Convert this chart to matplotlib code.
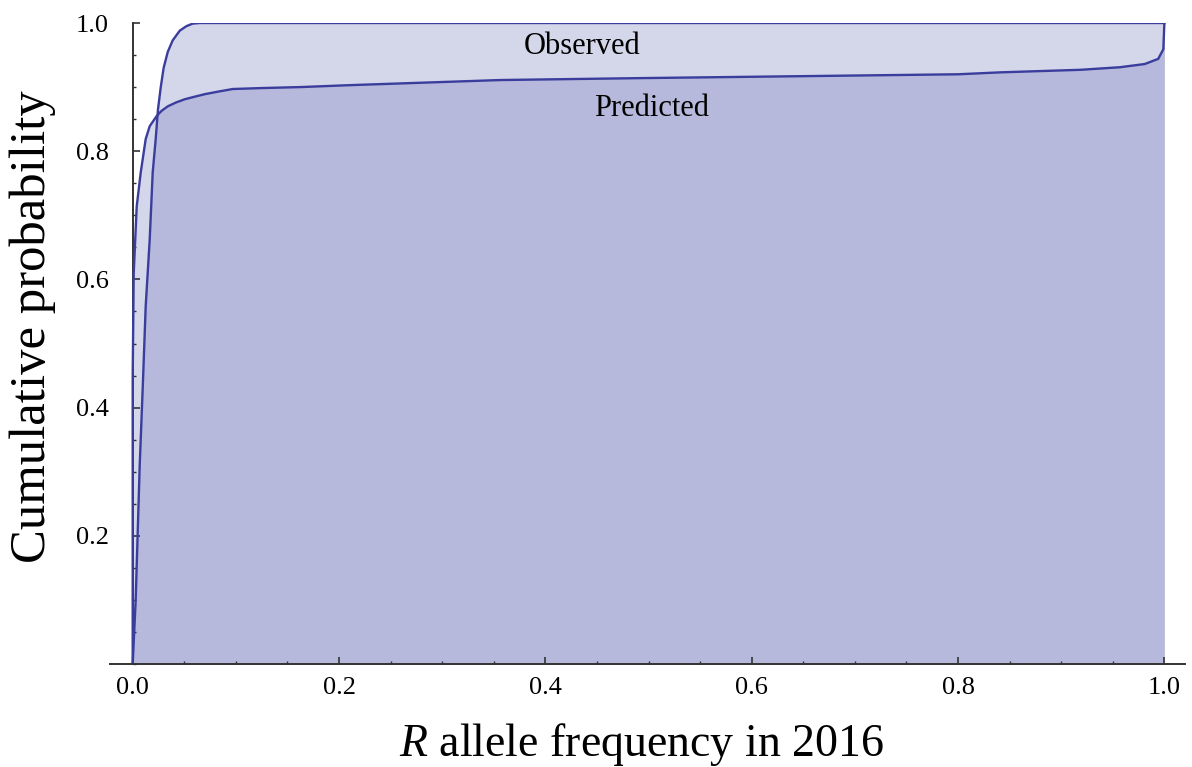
import matplotlib
matplotlib.use("Agg")
import matplotlib.pyplot as plt
import numpy as np
from matplotlib.ticker import MultipleLocator, FixedLocator

plt.rcParams['font.family'] = ['Liberation Serif', 'DejaVu Serif']
plt.rcParams['mathtext.fontset'] = 'custom'
plt.rcParams['mathtext.it'] = 'Liberation Serif:italic'
plt.rcParams['mathtext.rm'] = 'Liberation Serif'

# Observed cumulative distribution (R allele frequency, cumulative probability)
obs_x = [0.0, 0.0029, 0.0068, 0.0097, 0.0126, 0.0165, 0.0194, 0.0223, 0.0245,
         0.0272, 0.030, 0.034, 0.0388, 0.0456, 0.052, 0.058, 0.065, 1.0]
obs_y = [0.0, 0.10, 0.31, 0.43, 0.558, 0.6625, 0.767, 0.819, 0.865,
         0.90, 0.93, 0.955, 0.973, 0.988, 0.995, 0.999, 1.0, 1.0]

# Predicted cumulative distribution
pred_x = [0.0, 0.0, 0.001, 0.0039, 0.0078, 0.0126, 0.0165, 0.0233, 0.028, 0.034,
          0.042, 0.0504, 0.060, 0.070, 0.083, 0.097, 0.125, 0.162, 0.21, 0.356,
          0.492, 0.80, 0.841, 0.919, 0.957, 0.981, 0.994, 0.999, 1.0]
pred_y = [0.0, 0.45, 0.61, 0.714, 0.767, 0.819, 0.839, 0.855, 0.863, 0.870,
          0.876, 0.881, 0.885, 0.889, 0.893, 0.897, 0.8985, 0.900, 0.903, 0.911,
          0.914, 0.920, 0.923, 0.927, 0.931, 0.936, 0.944, 0.959, 1.0]

x_ticks = [0.0, 0.2, 0.4, 0.6, 0.8, 1.0]
x_ticklabels = ["0.0", "0.2", "0.4", "0.6", "0.8", "1.0"]
y_ticks = [0.2, 0.4, 0.6, 0.8, 1.0]
y_ticklabels = ["0.2", "0.4", "0.6", "0.8", "1.0"]

label_obs = "Observed"
label_pred = "Predicted"

fill_color = (108/255, 115/255, 182/255)
line_color = "#3a3d9c"

fig = plt.figure(figsize=(11.92, 7.67), dpi=100)
ax = fig.add_axes([110/1192, 1 - 664/767, (1185 - 110)/1192, (664 - 23)/767])

ax.fill_between(obs_x, 0, obs_y, color=fill_color, alpha=0.286, linewidth=0)
ax.fill_between(pred_x, 0, pred_y, color=fill_color, alpha=0.286, linewidth=0)
ax.plot(obs_x, obs_y, color=line_color, lw=1.7, solid_joinstyle='round')
ax.plot(pred_x, pred_y, color=line_color, lw=1.7, solid_joinstyle='round')

ax.set_xlim(-0.022, 1.02)
ax.set_ylim(0, 1.0)

for s in ['top', 'right']:
    ax.spines[s].set_visible(False)
ax.spines['left'].set_bounds(0, 1.0)
ax.spines['left'].set_position(('data', 0))
ax.spines['left'].set_color('#333333')
ax.spines['bottom'].set_color('#333333')
ax.spines['left'].set_linewidth(1.4)
ax.spines['bottom'].set_linewidth(1.4)
ax.spines['left'].set_zorder(1)

ax.xaxis.set_major_locator(FixedLocator(x_ticks))
ax.set_xticklabels(x_ticklabels)
ax.xaxis.set_minor_locator(MultipleLocator(0.05))
ax.yaxis.set_major_locator(FixedLocator(y_ticks))
ax.set_yticklabels(y_ticklabels)
ax.yaxis.set_minor_locator(MultipleLocator(0.05))

ax.tick_params(axis='both', which='major', direction='in', length=5, width=1.2,
               color='#333333', labelsize=19, pad=9)
ax.tick_params(axis='both', which='minor', direction='in', length=2.5, width=1.0,
               color='#333333')
ax.tick_params(axis='y', pad=17)

ax.text(0.436, 0.964, label_obs, fontsize=22, ha='center', va='center')
ax.text(0.503, 0.866, label_pred, fontsize=22, ha='center', va='center')

fig.text(33/1192, 1 - 327/767, "Cumulative probability", rotation=90,
         fontsize=36.5, ha='center', va='center')
fig.text(641/1192, 1 - 745/767, r"$R$ allele frequency in 2016",
         fontsize=33, ha='center', va='center')

fig.savefig("out.png", dpi=100, facecolor='white')
